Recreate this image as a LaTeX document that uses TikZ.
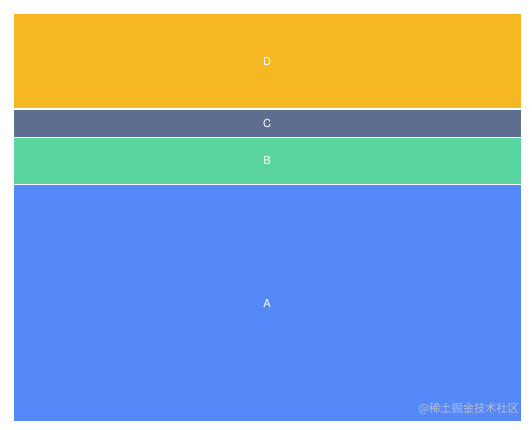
\documentclass[tikz,border=0pt]{standalone}
\usepackage{fontspec}
\setmainfont{TeX Gyre Heros}
\newfontfamily\cjk{Noto Sans CJK SC}
\definecolor{colD}{HTML}{F5B823}
\definecolor{colC}{HTML}{5D6E91}
\definecolor{colB}{HTML}{5AD5A0}
\definecolor{colA}{HTML}{5589F8}
\definecolor{markgray}{HTML}{B4BDD6}
\tikzset{
  band/.style={draw=white,line width=1pt,inner sep=0pt,outer sep=0pt,
    text=white,font=\fontsize{11}{12}\selectfont,
    minimum width=508pt,anchor=north west}
}

\begin{document}
\begin{tikzpicture}[x=1pt,y=-1pt]
  \useasboundingbox[fill=white] (0,0) rectangle (532,429);
  \node[band,fill=colD,minimum height=95pt] (D) at (13,13.5) {D};
  \node[band,fill=colC,minimum height=28pt] (C) at (13,109) {C};
  \node[band,fill=colB,minimum height=47pt] (B) at (13,137) {B};
  \node[band,fill=colA,minimum height=237pt] (A) at (13,184.5) {A};
  \node[anchor=east,text=markgray,font=\cjk\fontsize{11.2}{12}\selectfont,inner sep=0pt]
    (mark) at (519,409) {@稀土掘金技术社区};
\end{tikzpicture}
\end{document}
